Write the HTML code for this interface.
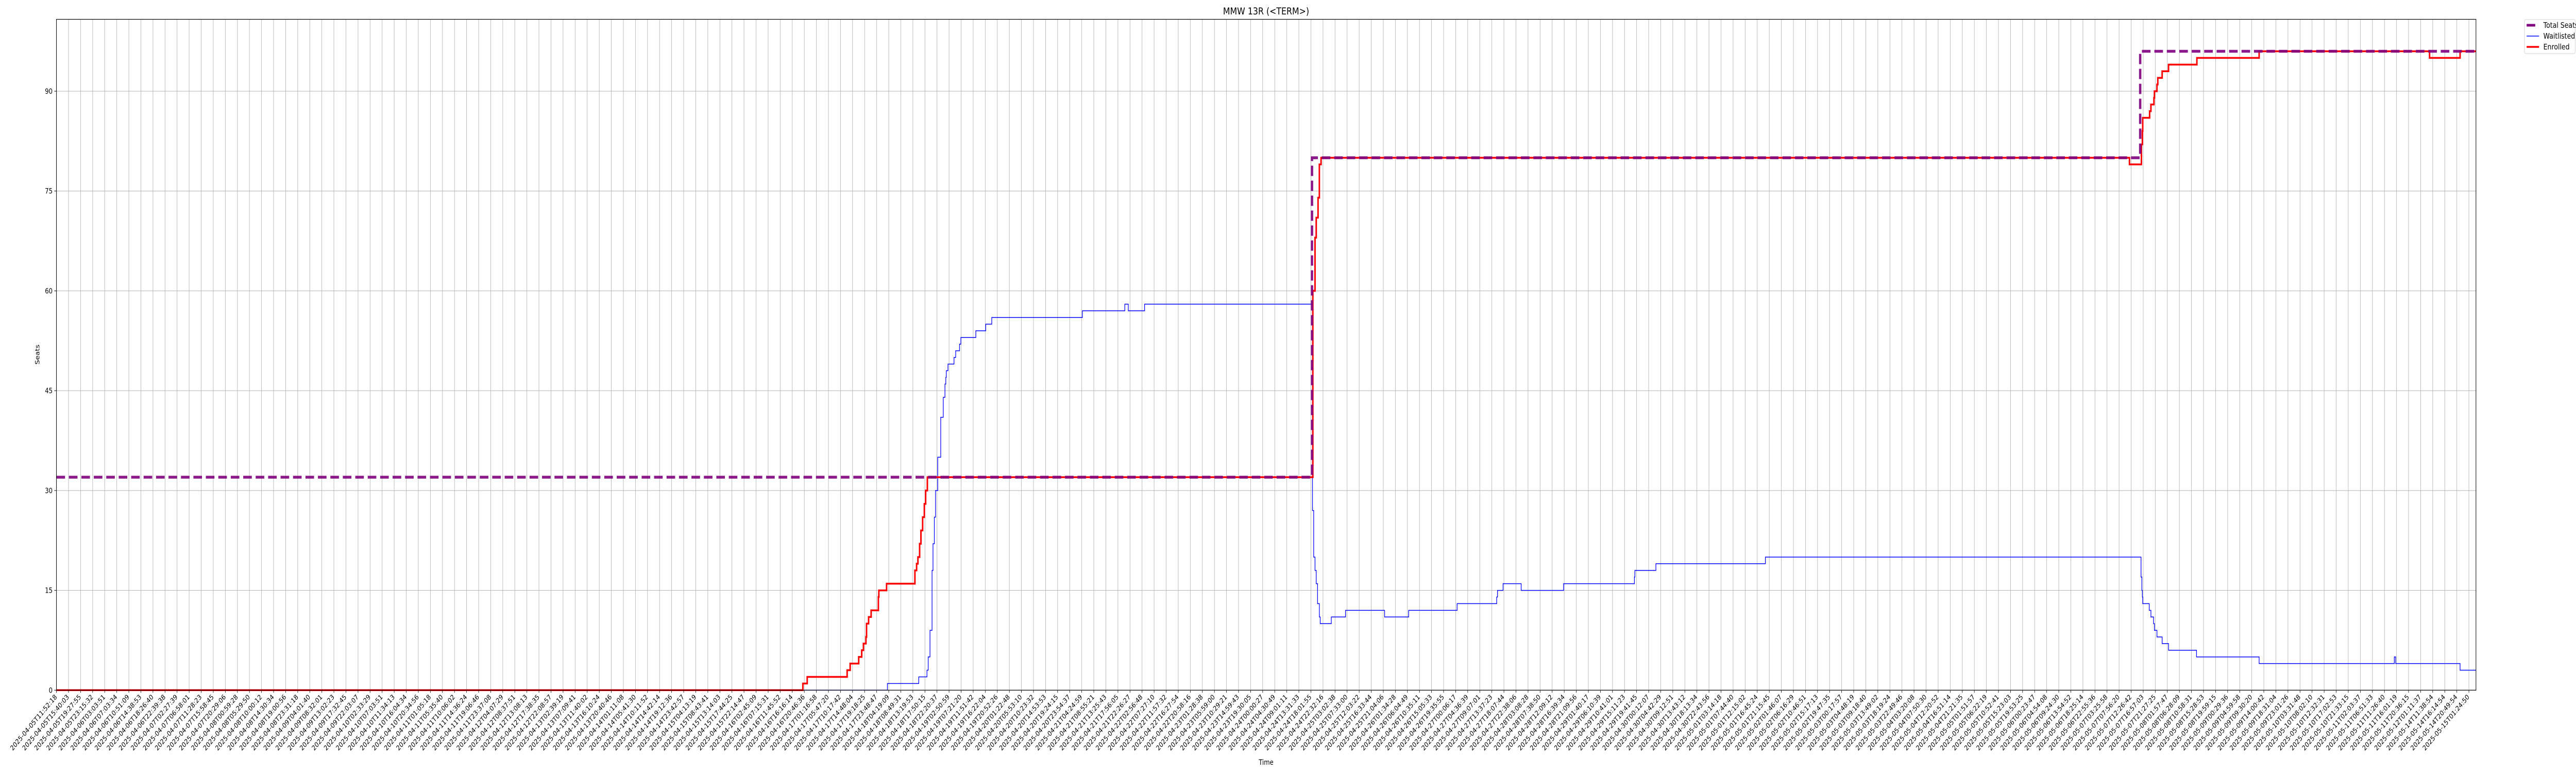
<!DOCTYPE html>
<html><head><meta charset="utf-8"><title>MMW 13R</title>
<style>
html,body{margin:0;padding:0;background:#fff;width:100vw;height:100vh;overflow:hidden;}
svg{display:block;position:absolute;left:0;top:0;width:100vw;height:100vh;overflow:hidden;font-family:"DejaVu Sans","Liberation Sans",sans-serif;}
</style></head>
<body>
<svg id="chart" viewBox="0 0 6000 1500" preserveAspectRatio="none" xmlns="http://www.w3.org/2000/svg">
<rect width="6000" height="1500" fill="#fff"/>
<text x="2949" y="28" font-size="19" text-anchor="middle">MMW 13R (&lt;TERM&gt;)</text>
<text x="2949" y="1484" font-size="14" text-anchor="middle">Time</text>
<text x="92" y="688" font-size="14" text-anchor="middle" transform="rotate(-90 92 688)">Seats</text>
<g id="grid"></g>
<g id="series"></g>
<g id="axes"></g>
<g>
<rect x="5880" y="38" width="118" height="66" rx="3" fill="#fff" stroke="#d0d0d0" stroke-width="1"/>
<line x1="5885" y1="49" x2="5905" y2="49" stroke="#800080" stroke-width="5"/>
<text x="5924" y="54" font-size="15">Total Seats</text>
<line x1="5885" y1="70" x2="5914" y2="70" stroke="#0000ff" stroke-width="1.5"/>
<text x="5924" y="75" font-size="15">Waitlisted</text>
<line x1="5885" y1="91" x2="5914" y2="91" stroke="#ff0000" stroke-width="3.5"/>
<text x="5924" y="96" font-size="15">Enrolled</text>
</g>
</svg>
<script>
// ---- data (x in sample-index tick units) ----
const seatsX = [0, 104.09, 172.75];
const seatsY = [32, 80, 96];
const waitX = [0, 68.89, 71.49, 72.17, 72.27, 72.42, 72.59, 72.67, 72.78, 72.88, 73.06, 73.31, 73.52, 73.66, 73.73, 73.77, 73.91, 74.41, 74.55, 74.87, 74.98, 76.22, 77.04, 77.54, 85.05, 88.57, 88.86, 90.21,
  104.13, 104.23, 104.34, 104.44, 104.55, 104.70, 104.77, 104.87, 105.69, 106.87, 110.11, 112.10, 116.12, 119.40, 119.47, 119.93, 121.43, 124.95, 130.82, 130.86, 132.60, 141.68,
  172.82, 172.89, 172.93, 172.96, 173.50, 173.64, 173.86, 173.93, 174.14, 174.57, 175.10, 177.42, 182.61, 193.82, 193.93, 199.27];
const waitY = [0, 1, 2, 3, 5, 9, 18, 22, 26, 30, 35, 41, 44, 46, 47, 48, 49, 50, 51, 52, 53, 54, 55, 56, 57, 58, 57, 58,
  27, 20, 18, 16, 13, 11, 10, 10, 11, 12, 11, 12, 13, 14, 15, 16, 15, 16, 17, 18, 19, 20,
  17, 15, 14, 13, 12, 11, 10, 9, 8, 7, 6, 5, 4, 5, 4, 3];
const enrolledX = [0, 61.88, 62.24, 65.55, 65.80, 66.51, 66.76, 66.90, 67.11, 67.16, 67.33, 67.54, 68.14, 68.18, 68.82, 71.17, 71.31, 71.42, 71.56, 71.67, 71.81, 71.95, 72.06, 72.20,
  104.16, 104.34, 104.44, 104.59, 104.70, 104.84, 171.86, 172.85, 172.93, 172.96, 173.53, 173.64, 173.89, 173.93, 174.14, 174.21, 174.57, 175.10, 177.45, 182.61, 196.74, 199.27];
const enrolledY = [0, 1, 2, 3, 4, 5, 6, 7, 8, 10, 11, 12, 14, 15, 16, 18, 19, 20, 22, 24, 26, 28, 30, 32,
  60, 68, 71, 74, 79, 80, 79, 82, 84, 86, 87, 88, 89, 90, 91, 92, 93, 94, 95, 96, 95, 96];
const yTicks = [0, 15, 30, 45, 60, 75, 90];
const knownStartLabels = ["2025-04-05T11:52:18","2025-04-05T15:40:03","2025-04-05T19:27:55","2025-04-05T23:15:32","2025-04-06T03:03:51","2025-04-06T07:03:34","2025-04-06T10:51:09","2025-04-06T14:38:53","2025-04-06T18:26:40","2025-04-06T22:39:38","2025-04-07T02:27:39"];
const knownEndLabels = ["2025-05-11T02:03:37","2025-05-11T06:51:33","2025-05-11T11:26:40","2025-05-11T16:01:19","2025-05-11T20:36:15","2025-05-12T01:11:37","2025-05-14T11:38:54","2025-05-14T16:14:54","2025-05-14T20:49:54","2025-05-15T01:24:50"];
const xMax = 200.59, yMax = 100.8, nTicks = 201;

// ---- axes ----
const L = 131.5, R = 5767, T = 37.5, B = 1339.3;
const tickStep = 28.095;
function X(u){ return L + u * tickStep; }
function Y(v){ return B - v * (B - T) / yMax; }

const xTickLabels = [];
(function(){
  const t0 = Date.parse(knownStartLabels[knownStartLabels.length-1] + "Z");
  const t1 = Date.parse(knownEndLabels[0] + "Z");
  const i0 = knownStartLabels.length - 1, i1 = nTicks - knownEndLabels.length;
  for (let i = 0; i < nTicks; i++) {
    if (i <= i0) xTickLabels.push(knownStartLabels[i]);
    else if (i >= i1) xTickLabels.push(knownEndLabels[i - i1]);
    else {
      const t = t0 + (t1 - t0) * (i - i0) / (i1 - i0);
      xTickLabels.push(new Date(Math.round(t / 1000) * 1000).toISOString().slice(0, 19));
    }
  }
})();

const NS = "http://www.w3.org/2000/svg";
function mk(tag, attrs, parent){
  const e = document.createElementNS(NS, tag);
  for (const k in attrs) e.setAttribute(k, attrs[k]);
  parent.appendChild(e);
  return e;
}
const grid = document.getElementById("grid");
const axes = document.getElementById("axes");
const series = document.getElementById("series");

for (let i = 0; i < nTicks; i++) {
  const x = X(i);
  const g = mk("line", {x1:x, y1:T, x2:x, y2:B, stroke:"#b0b0b0", "stroke-width":1}, grid);
  
  
  const t = mk("line", {x1:x, y1:B, x2:x, y2:B+5, stroke:"#000", "stroke-width":1}, axes);
  
  
  const lb = mk("text", {x:x+2, y:B+14, "font-size":13.5, "text-anchor":"end", transform:"rotate(-45 "+(x+2)+" "+(B+14)+")"}, axes);
  lb.textContent = xTickLabels[i];
  
  
}
yTicks.forEach(function(v){
  const y = Y(v);
  const g = mk("line", {x1:L, y1:y, x2:R, y2:y, stroke:"#b0b0b0", "stroke-width":1}, grid);
  
  
  const t = mk("line", {x1:L-5, y1:y, x2:L, y2:y, stroke:"#000", "stroke-width":1}, axes);
  
  
  const lb = mk("text", {x:L-9, y:y+5, "font-size":14, "text-anchor":"end"}, axes);
  lb.textContent = String(v);
  
  
});
const frame = mk("rect", {x:L, y:T, width:R-L, height:B-T, fill:"none", stroke:"#000", "stroke-width":1.2}, axes);



function stepPath(xs, ys){
  let d = "M" + X(xs[0]).toFixed(2) + " " + Y(ys[0]).toFixed(2);
  const n = Math.min(xs.length, ys.length);
  for (let i = 1; i < n; i++) {
    d += " H" + X(xs[i]).toFixed(2) + " V" + Y(ys[i]).toFixed(2);
  }
  d += " H" + X(xMax).toFixed(2);
  return d;
}
const wp = mk("path", {d:stepPath(waitX, waitY), fill:"none", stroke:"#0000ff", "stroke-width":1.5}, series);


const ep = mk("path", {d:stepPath(enrolledX, enrolledY), fill:"none", stroke:"#ff0000", "stroke-width":3.5}, series);


const sp = mk("path", {d:stepPath(seatsX, seatsY), fill:"none", stroke:"#800080", "stroke-width":5.5, "stroke-dasharray":"20 9", opacity:0.9}, series);


</script>
</body></html>
